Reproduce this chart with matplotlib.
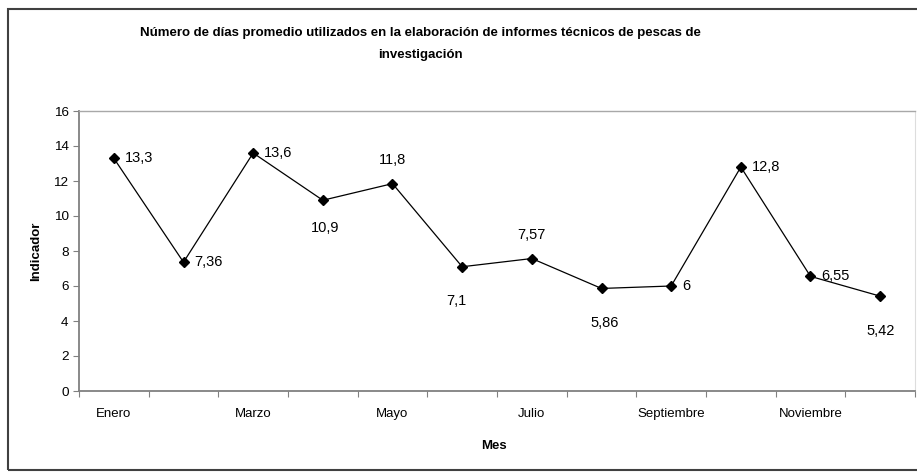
import numpy as np
import matplotlib
matplotlib.use("Agg")
import matplotlib.pyplot as plt

plt.rcParams['font.family'] = ['Liberation Sans', 'DejaVu Sans']

meses = ["Enero", "Febrero", "Marzo", "Abril", "Mayo", "Junio", "Julio",
         "Agosto", "Septiembre", "Octubre", "Noviembre", "Diciembre"]
valores = [13.3, 7.36, 13.6, 10.9, 11.85, 7.1, 7.57, 5.86, 6, 12.8, 6.55, 5.42]
etiquetas = ["13,3", "7,36", "13,6", "10,9", "11,8", "7,1", "7,57", "5,86", "6", "12,8", "6,55", "5,42"]
yticks = [0, 2, 4, 6, 8, 10, 12, 14, 16]

titulo = ("Número de días promedio utilizados en la elaboración de informes técnicos de pescas de\n"
          "investigación")

# where each data label goes (offsets in points), like the excel chart
offs = [(8, 0), (8, 0), (8, 0), (2, -20), (0, 17), (-4, -25),
        (0, 17), (2, -25), (8, 0), (8, 0), (8, 0), (0, -25)]

fig = plt.figure(figsize=(9.17, 4.72), dpi=100)
ax = fig.add_axes([79 / 917, 81 / 472, 836 / 917, 280 / 472])

x = np.arange(len(valores))
ax.plot(x, valores, color="black", lw=0.9, marker="D", markersize=5.5,
        markerfacecolor="black", markeredgecolor="black")

for i, (v, t) in enumerate(zip(valores, etiquetas)):
    dx, dy = offs[i]
    ha = "left" if dy == 0 else "center"
    ax.annotate(t, (i, v), xytext=(dx, dy), textcoords="offset points",
                ha=ha, va="center", fontsize=10.5)

ax.set_xlim(-0.5, len(valores) - 0.5)
ax.set_ylim(0, 16)
ax.set_yticks(yticks)
ax.set_yticklabels([str(v) for v in yticks], fontsize=9.7)

ax.set_xticks(np.arange(-0.5, len(valores), 1.0))
ax.set_xticklabels([])
ax.set_xticks(x[::2], minor=True)
ax.set_xticklabels(meses[::2], minor=True, fontsize=9.5)
ax.tick_params(axis="x", which="minor", length=0, pad=12)
ax.tick_params(axis="x", which="major", length=4, color="#808080", direction="out")
ax.tick_params(axis="y", length=4, color="#808080", pad=3.5)

for s in ["left", "bottom"]:
    ax.spines[s].set_color("#808080")
    ax.spines[s].set_linewidth(1.3)
ax.spines["top"].set_color("#a8a8a8")
ax.spines["top"].set_linewidth(1.0)
ax.spines["right"].set_color("#dddddd")
ax.spines["right"].set_linewidth(0.8)

fig.text(0.459, 0.942, titulo, ha="center", va="top", fontsize=9.5,
         fontweight="bold", linespacing=2.08)
fig.text(0.039, 0.5 * (81 + 361) / 472, "Indicador", rotation=90, ha="center",
         va="center", fontsize=9.5, fontweight="bold")
fig.text(0.539, 0.056, "Mes", ha="center", va="center", fontsize=9.5, fontweight="bold")

# chart frame
frame = plt.Rectangle((8 / 917, 2 / 472), 1.2, 461 / 472, transform=fig.transFigure,
                      fill=False, edgecolor="#404040", lw=1.5, clip_on=False)
fig.patches.append(frame)

fig.savefig("out.png", dpi=100)
